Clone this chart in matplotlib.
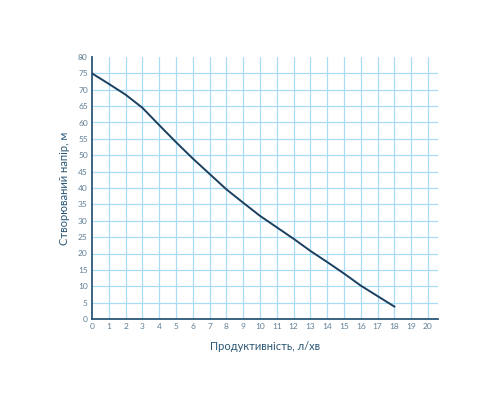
import matplotlib
matplotlib.use("Agg")
import matplotlib.pyplot as plt

flow = [0, 1, 2, 3, 4, 5, 6, 7, 8, 9, 10, 11, 12, 13, 14, 15, 16, 17, 18]
head = [75, 71.8, 68.5, 64.5, 59.2, 54, 49, 44.3, 39.6, 35.5, 31.5, 28, 24.5, 20.8, 17.4, 13.9, 10.2, 7, 3.8]
xticks = list(range(0, 21))
yticks = list(range(0, 81, 5))

plt.rcParams['font.family'] = ['Lato', 'DejaVu Sans']

fig = plt.figure(figsize=(5, 4), dpi=100)
ax = fig.add_axes([0.184, 0.2025, 0.692, 0.655])

grid_c = '#a9dcf6'
for x in xticks[1:]:
    ax.axvline(x, color=grid_c, lw=0.9, zorder=1)
for y in yticks[1:-1]:
    ax.axhline(y, color=grid_c, lw=0.9, zorder=1)

ax.plot(flow, head, color='#1b3f5e', lw=1.4, zorder=3)

ax.set_xlim(0, 20.6)
ax.set_ylim(0, 80)
ax.set_xticks(xticks)
ax.set_yticks(yticks)
ax.tick_params(length=0, labelsize=6, labelcolor='#5f7f96', pad=3)
for s in ['top', 'right']:
    ax.spines[s].set_visible(False)
for s in ['left', 'bottom']:
    ax.spines[s].set_color('#2b5675')
    ax.spines[s].set_linewidth(1.3)

ax.set_xlabel('Продуктивність, л/хв', fontsize=8, color='#2b5675', labelpad=8)
ax.set_ylabel('Створюваний напір, м', fontsize=8, color='#2b5675', labelpad=6)

fig.savefig('out.png', dpi=100, facecolor='white')
